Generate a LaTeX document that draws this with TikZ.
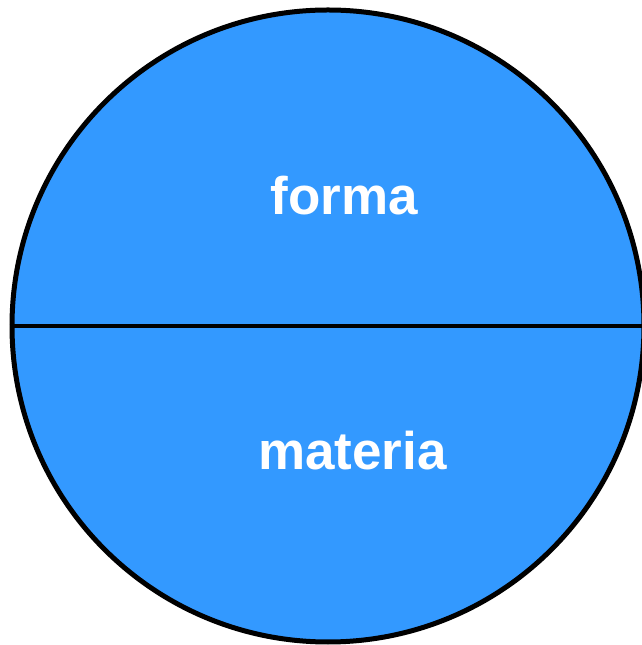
\documentclass[tikz,border=0pt]{standalone}
\usepackage{fontspec}
\setmainfont{Liberation Sans}
\definecolor{discblue}{HTML}{3399FF}
\begin{document}
\begin{tikzpicture}[x=1pt,y=1pt,
  disc/.style={circle, draw=black, fill=discblue, line width=5pt, minimum size=632pt, inner sep=0pt},
  lbl/.style={text=white, font=\fontsize{53}{62}\selectfont\bfseries, anchor=base, inner sep=0pt}]
\useasboundingbox (0,0) rectangle (641,645);
\node[disc] (c) at (328,319) {};
\draw[line width=4.5pt] (c.west) -- (c.east);
\node[lbl] (forma) at (344.5,430) {forma};
\node[lbl] (materia) at (352.5,175) {materia};
\end{tikzpicture}
\end{document}
